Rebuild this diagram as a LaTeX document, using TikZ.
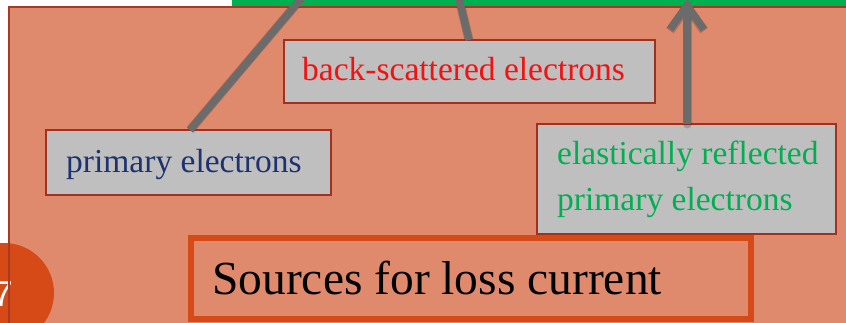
\documentclass[tikz,border=0pt]{standalone}
\usepackage{fontspec}
\setmainfont{Liberation Serif}
\newfontfamily\numfont{Liberation Sans}
\usetikzlibrary{arrows.meta}
\definecolor{salmon}{HTML}{E08A6D}
\definecolor{panelborder}{HTML}{A83A22}
\definecolor{boxfill}{HTML}{BFBFBF}
\definecolor{boxborder}{HTML}{A3301E}
\definecolor{orng}{HTML}{D54A17}
\definecolor{grn}{HTML}{00B050}
\definecolor{navy}{HTML}{1C3370}
\definecolor{redtxt}{HTML}{F21212}
\definecolor{conncol}{HTML}{6B6B6B}
\tikzset{
  labelbox/.style={draw=boxborder, line width=2pt, fill=boxfill, inner sep=0pt, outer sep=0pt, anchor=north west},
  labeltext/.style={anchor=base west, inner sep=0pt, font=\fontsize{33.5}{40}\selectfont},
  conn/.style={draw=conncol, line width=7.5pt},
  connshadow/.style={draw=black, opacity=0.18, line width=9pt, shift={(2pt,3pt)}},
}
\begin{document}
\begin{tikzpicture}[x=1pt,y=-1pt]
\useasboundingbox (0,0) rectangle (846,323);
\clip (0,0) rectangle (846,323);
\fill[white] (0,0) rectangle (846,323);
\fill[grn] (232,-5) rectangle (850,8);
% panel
\node[fill=salmon, inner sep=0pt, outer sep=0pt, anchor=north west, minimum width=900pt, minimum height=400pt] (panel) at (9,7) {};
\node[circle, fill=orng, minimum size=100pt, inner sep=0pt] (numdisc) at (4,293) {};
\node[anchor=base east, inner sep=0pt, text=white, font=\numfont\fontsize{36}{40}\selectfont] (numtext) at (13,306) {7};
\draw[panelborder, line width=1.5pt] (panel.north west) rectangle (panel.south east);
% boxes
\node[labelbox, minimum width=371pt, minimum height=63pt] (bsbox) at (284,40) {};
\node[labeltext, text=redtxt] (bstext) at (302,81) {back-scattered electrons};
\node[labelbox, minimum width=285pt, minimum height=65pt] (primbox) at (46,130) {};
\node[labeltext, text=navy] (primtext) at (66,173) {primary electrons};
\node[labelbox, minimum width=299pt, minimum height=110pt] (elbox) at (537,124) {};
\node[labeltext, text=grn] (eltextA) at (557,165) {elastically reflected};
\node[labeltext, text=grn] (eltextB) at (557,211) {primary electrons};
% sources box
\node[draw=orng, line width=6pt, fill=salmon, inner sep=0pt, outer sep=0pt, anchor=north west, minimum width=560pt, minimum height=81pt] (srcbox) at (191,238) {};
\node[anchor=base west, inner sep=0pt, font=\fontsize{47.5}{56}\selectfont] (srctext) at (212,294) {Sources for loss current};
% connectors
\coordinate (ptop) at (305,-6);
\coordinate (btop) at (458,-6);
\coordinate (etop) at (687,-1);
\begin{scope}
\clip (0,8) rectangle (846,323);
\draw[connshadow] ([xshift=144pt]primbox.north west) -- (ptop);
\draw[connshadow] ([xshift=185pt]bsbox.north west) -- (btop);
\draw[connshadow, line cap=round, -{Straight Barb[length=24pt,width=34pt]}] ([xshift=150pt]elbox.north west) -- (etop);
\end{scope}
\draw[conn] ([xshift=144pt]primbox.north west) -- (ptop);
\draw[conn] ([xshift=185pt]bsbox.north west) -- (btop);
\draw[conn, -{Straight Barb[length=24pt,width=34pt]}] ([xshift=150pt]elbox.north west) -- (etop);
\end{tikzpicture}
\end{document}
